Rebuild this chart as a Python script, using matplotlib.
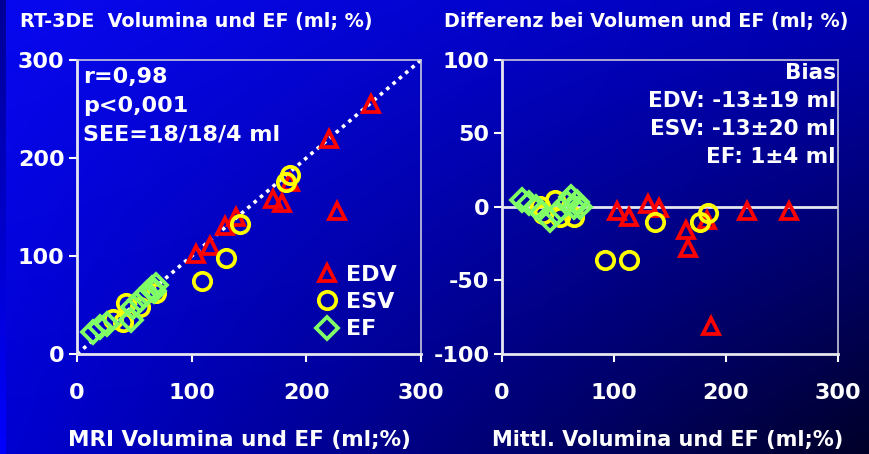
import numpy as np
import matplotlib
matplotlib.use('Agg')
import matplotlib.pyplot as plt

# RT-3DE vs MRI (left panel)
edv_mri = [104, 116, 129, 139, 171, 179, 186, 220, 227, 256]
edv_rt3de = [102, 110, 131, 140, 158, 154, 176, 219, 146, 255]
esv_mri = [31, 40, 43, 55, 69, 109, 130, 142, 182, 186]
esv_rt3de = [36, 33, 52, 48, 62, 75, 98, 133, 175, 183]
ef_mri = [14, 20, 26, 47, 49, 55, 61, 65, 69, 67]
ef_rt3de = [22, 28, 31, 35, 48, 55, 62, 67, 70, 64]

# Bland-Altman (right panel)
edv_mean = [103, 113, 130, 140, 164, 166, 183, 219, 256, 187]
edv_diff = [-2.5, -6.6, 2, -1, -15.6, -28, -9, -2.5, -3, -81]
esv_mean = [34, 47, 37, 52, 64, 92, 113, 137, 177, 184]
esv_diff = [1, 5, -5, -7, -7, -36, -36, -10, -10, -4]
ef_mean = [18, 24, 30, 43, 49, 58, 62, 67, 70, 64]
ef_diff = [5, 2.5, 0, -9, -4, 2.5, 7, 3.6, 0, 0]

stats_left = "r=0,98\np<0,001\nSEE=18/18/4 ml"
stats_right = "Bias\nEDV: -13\u00b119 ml\nESV: -13\u00b120 ml\nEF: 1\u00b14 ml"

RED = '#FF0000'
YEL = '#FFFF00'
GRN = '#80FF66'

plt.rcParams['font.family'] = 'DejaVu Sans'
plt.rcParams['font.weight'] = 'bold'
plt.rcParams['axes.unicode_minus'] = False

W, H = 870, 454
fig = plt.figure(figsize=(W / 100, H / 100), dpi=100)

# background: diagonal blue gradient from the four corners
bg = fig.add_axes([0, 0, 1, 1], zorder=-10)
u = np.linspace(0, 1, W)[None, :]
v = np.linspace(0, 1, H)[:, None]
tl, tr = np.array([8, 8, 240]), np.array([0, 0, 180])
bl, br = np.array([0, 0, 210]), np.array([0, 0, 40])
img = ((1 - u)[..., None] * (1 - v)[..., None] * tl + u[..., None] * (1 - v)[..., None] * tr
       + (1 - u)[..., None] * v[..., None] * bl + u[..., None] * v[..., None] * br) / 255.0
# narrow strip on the left edge
strip = np.linspace(150, 255, H)[:, None]
img[:, :6, 0] = 0
img[:, :6, 1] = 0
img[:, :6, 2] = strip / 255.0
bg.imshow(img, aspect='auto', extent=[0, 1, 0, 1])
bg.axis('off')

ax1 = fig.add_axes([77 / W, 1 - 354 / H, 344 / W, 294 / H])
ax2 = fig.add_axes([502 / W, 1 - 354 / H, 336 / W, 294 / H])

mk = dict(linestyle='none', markerfacecolor='none', markeredgewidth=2.7)

for ax in (ax1, ax2):
    ax.set_facecolor('none')
    for s in ('top', 'right'):
        ax.spines[s].set_color('#C8C8DC')
        ax.spines[s].set_linewidth(1.2)
    for s in ('left', 'bottom'):
        ax.spines[s].set_color('#E6E6F0')
        ax.spines[s].set_linewidth(2)
    ax.tick_params(colors='white', length=6, width=1.5, direction='out', labelsize=16)
    ax.tick_params(axis='x', pad=15)
    ax.tick_params(axis='y', pad=3)
    ax.set_xlim(0, 300)
    ax.set_xticks([0, 100, 200, 300])

# left: RT-3DE vs MRI
ax1.plot([0, 300], [0, 300], color='white', lw=2.6, linestyle=(0, (1, 1.3)), zorder=1)
ax1.plot(edv_mri, edv_rt3de, marker='^', color=RED, markersize=12, label='EDV', **mk)
ax1.plot(esv_mri, esv_rt3de, marker='o', color=YEL, markersize=12.5, label='ESV', **mk)
ax1.plot(ef_mri, ef_rt3de, marker='D', color=GRN, markersize=11, label='EF', **mk)
ax1.set_ylim(0, 300)
ax1.set_yticks([0, 100, 200, 300])
ax1.text(0.017, 0.977, stats_left, transform=ax1.transAxes, color='white', fontsize=16,
         ha='left', va='top', linespacing=1.55)
leg = ax1.legend(loc='lower right', bbox_to_anchor=(0.93, 0.05), frameon=False, fontsize=16,
                 borderaxespad=0, borderpad=0, handlelength=1.0, handletextpad=0.35,
                 labelspacing=0.32, numpoints=1)
for t in leg.get_texts():
    t.set_color('white')

# right: difference vs mean
ax2.axhline(0, color='#E6E6F0', lw=2, zorder=1)
ax2.plot(edv_mean, edv_diff, marker='^', color=RED, markersize=12, **mk)
ax2.plot(esv_mean, esv_diff, marker='o', color=YEL, markersize=12.5, **mk)
ax2.plot(ef_mean, ef_diff, marker='D', color=GRN, markersize=11, **mk)
ax2.set_ylim(-100, 100)
ax2.set_yticks([-100, -50, 0, 50, 100])
ax2.text(0.994, 0.99, stats_right, transform=ax2.transAxes, color='white', fontsize=15.5,
         ha='right', va='top', multialignment='right', linespacing=1.5)

fig.text(20 / W, 1 - 22 / H, "RT-3DE  Volumina und EF (ml; %)", color='white', fontsize=13.8,
         ha='left', va='center')
fig.text(444 / W, 1 - 22 / H, "Differenz bei Volumen und EF (ml; %)", color='white', fontsize=13.8,
         ha='left', va='center')
fig.text(68 / W, 1 - 440 / H, "MRI Volumina und EF (ml;%)", color='white', fontsize=15.5,
         ha='left', va='center')
fig.text(492 / W, 1 - 440 / H, "Mittl. Volumina und EF (ml;%)", color='white', fontsize=15,
         ha='left', va='center')

fig.savefig('out.png', dpi=100)
